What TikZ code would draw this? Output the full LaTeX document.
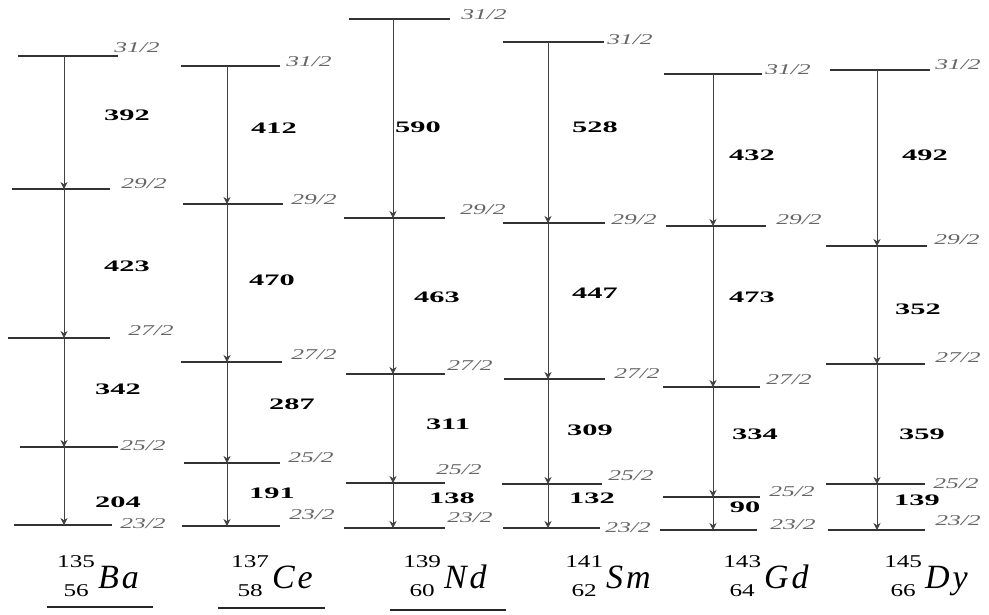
\documentclass[tikz,border=0pt]{standalone}
\usepackage{fontspec}
\usepackage{graphicx}
\setmainfont{Liberation Serif}
\usetikzlibrary{arrows.meta,positioning}

% stretched texts, as in the scan
\newcommand{\en}[1]{\scalebox{1.9}[1]{#1}}
\newcommand{\spn}[1]{\scalebox{1.7}[1]{#1}}
\newcommand{\nucsym}[4]{\raisebox{8pt}{\fontsize{18}{29}\selectfont\begin{tabular}{@{}c@{}}\scalebox{1.4}[1]{#1}\\\scalebox{1.4}[1]{#2}\end{tabular}}\hspace{3pt}{\itshape\fontsize{34}{34}\selectfont #3\hspace{3pt}#4}}

\begin{document}
\begin{tikzpicture}[x=1pt, y=-1pt,
    level/.style={rectangle, fill=black!80, minimum height=1.7pt, inner sep=0pt, outer sep=0pt},
    trans/.style={draw=black!75, line width=0.7pt, -{Stealth[length=7pt,width=7pt]}},
    spin/.style={font=\itshape\fontsize{15}{15}\selectfont, text=black!60, inner sep=0pt},
    energy/.style={font=\bfseries\fontsize{16}{16}\selectfont, inner sep=0pt},
    nuc/.style={inner sep=0pt},
    uline/.style={line width=1.6pt, black!85}
]
\useasboundingbox (0,0) rectangle (989,614);

% 135Ba
\coordinate (baX) at (64,0);
\foreach \j/\y/\a/\b/\lx/\ly in {31/56/18/118/137/48, 29/189/12/110/144/184, 27/338/8/110/151/331, 25/447/20/118/143/446, 23/525/14/112/143/524} {
  \node[level, minimum width={(\b-\a)*1pt}] (ba\j) at ({(\a+\b)/2},\y) {};
  \node[spin] (ba\j s) at (\lx,\ly) {\spn{\j/2}};
}
\foreach \u/\l in {31/29, 29/27, 27/25, 25/23}
  \draw[trans] (baX |- ba\u) -- (baX |- ba\l);
\node[energy] (ba392) at (127,115) {\en{392}};
\node[energy] (ba423) at (127,266) {\en{423}};
\node[energy] (ba342) at (118,389) {\en{342}};
\node[energy] (ba204) at (118,502) {\en{204}};
\node[nuc] (baname) at (98,576) {\nucsym{135}{56}{B}{a}};
\draw[uline] (47,607) -- (153,607);

% 137Ce
\coordinate (ceX) at (227,0);
\foreach \j/\y/\a/\b/\lx/\ly in {31/66/181/280/309/62, 29/204/183/283/314/200, 27/362/181/282/314/355, 25/463/184/280/311/458, 23/526/182/280/312/515} {
  \node[level, minimum width={(\b-\a)*1pt}] (ce\j) at ({(\a+\b)/2},\y) {};
  \node[spin] (ce\j s) at (\lx,\ly) {\spn{\j/2}};
}
\foreach \u/\l in {31/29, 29/27, 27/25, 25/23}
  \draw[trans] (ceX |- ce\u) -- (ceX |- ce\l);
\node[energy] (ce412) at (274,128) {\en{412}};
\node[energy] (ce470) at (272,280) {\en{470}};
\node[energy] (ce287) at (292,404) {\en{287}};
\node[energy] (ce191) at (272,493) {\en{191}};
\node[nuc] (cename) at (272,576) {\nucsym{137}{58}{C}{e}};
\draw[uline] (218,608) -- (325,608);

% 139Nd
\coordinate (ndX) at (393,0);
\foreach \j/\y/\a/\b/\lx/\ly in {31/19/349/450/484/15, 29/218/344/445/483/210, 27/374/346/445/470/366, 25/483/346/445/459/470, 23/528/344/445/470/518} {
  \node[level, minimum width={(\b-\a)*1pt}] (nd\j) at ({(\a+\b)/2},\y) {};
  \node[spin] (nd\j s) at (\lx,\ly) {\spn{\j/2}};
}
\foreach \u/\l in {31/29, 29/27, 27/25, 25/23}
  \draw[trans] (ndX |- nd\u) -- (ndX |- nd\l);
\node[energy] (nd590) at (418,127) {\en{590}};
\node[energy] (nd463) at (437,297) {\en{463}};
\node[energy] (nd311) at (448,424) {\en{311}};
\node[energy] (nd138) at (452,498) {\en{138}};
\node[nuc] (ndname) at (445,576) {\nucsym{139}{60}{N}{d}};
\draw[uline] (390,610) -- (506,610);

% 141Sm
\coordinate (smX) at (548,0);
\foreach \j/\y/\a/\b/\lx/\ly in {31/42/503/604/630/40, 29/223/503/605/634/220, 27/379/504/605/637/374, 25/484/502/602/631/476, 23/528/503/600/628/528} {
  \node[level, minimum width={(\b-\a)*1pt}] (sm\j) at ({(\a+\b)/2},\y) {};
  \node[spin] (sm\j s) at (\lx,\ly) {\spn{\j/2}};
}
\foreach \u/\l in {31/29, 29/27, 27/25, 25/23}
  \draw[trans] (smX |- sm\u) -- (smX |- sm\l);
\node[energy] (sm528) at (595,127) {\en{528}};
\node[energy] (sm447) at (595,293) {\en{447}};
\node[energy] (sm309) at (590,430) {\en{309}};
\node[energy] (sm132) at (592,498) {\en{132}};
\node[nuc] (smname) at (608,576) {\nucsym{141}{62}{S}{m}};

% 143Gd
\coordinate (gdX) at (713,0);
\foreach \j/\y/\a/\b/\lx/\ly in {31/74/664/762/788/70, 29/226/666/766/799/220, 27/387/663/760/789/380, 25/497/663/760/792/492, 23/530/660/757/793/525} {
  \node[level, minimum width={(\b-\a)*1pt}] (gd\j) at ({(\a+\b)/2},\y) {};
  \node[spin] (gd\j s) at (\lx,\ly) {\spn{\j/2}};
}
\foreach \u/\l in {31/29, 29/27, 27/25, 25/23}
  \draw[trans] (gdX |- gd\u) -- (gdX |- gd\l);
\node[energy] (gd432) at (752,155) {\en{432}};
\node[energy] (gd473) at (752,297) {\en{473}};
\node[energy] (gd334) at (755,434) {\en{334}};
\node[energy] (gd90) at (745,507) {\en{90}};
\node[nuc] (gdname) at (766,576) {\nucsym{143}{64}{G}{d}};

% 145Dy
\coordinate (dyX) at (877,0);
\foreach \j/\y/\a/\b/\lx/\ly in {31/70/830/930/958/65, 29/246/826/927/957/240, 27/364/826/925/958/358, 25/484/826/925/956/484, 23/530/828/925/958/521} {
  \node[level, minimum width={(\b-\a)*1pt}] (dy\j) at ({(\a+\b)/2},\y) {};
  \node[spin] (dy\j s) at (\lx,\ly) {\spn{\j/2}};
}
\foreach \u/\l in {31/29, 29/27, 27/25, 25/23}
  \draw[trans] (dyX |- dy\u) -- (dyX |- dy\l);
\node[energy] (dy492) at (925,155) {\en{492}};
\node[energy] (dy352) at (918,309) {\en{352}};
\node[energy] (dy359) at (922,434) {\en{359}};
\node[energy] (dy139) at (917,500) {\en{139}};
\node[nuc] (dyname) at (926,576) {\nucsym{145}{66}{D}{y}};

\end{tikzpicture}
\end{document}
